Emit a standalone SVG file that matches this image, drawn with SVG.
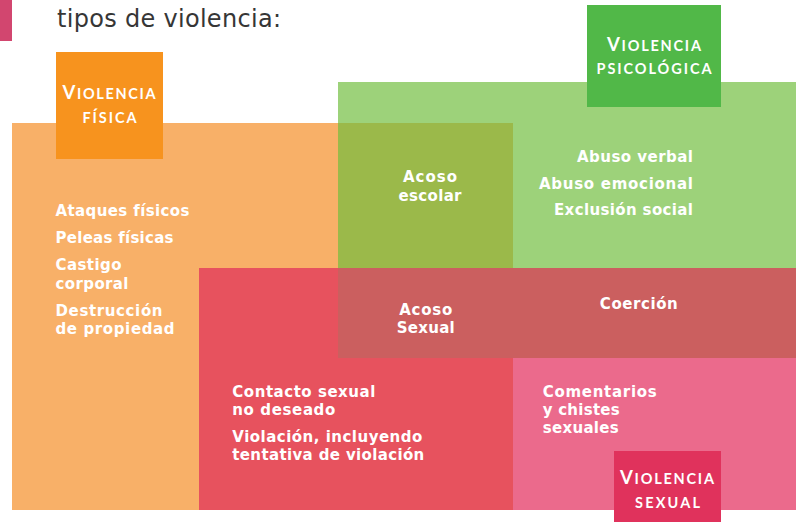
<svg xmlns="http://www.w3.org/2000/svg" width="796" height="522" viewBox="0 0 796 522">
<style>
.t{font-family:"DejaVu Sans","Open Sans","Liberation Sans",sans-serif;font-weight:700;font-size:15px;fill:#ffffff}
.r{text-anchor:end}
.m{text-anchor:middle}
.lab{font-family:Lato,"Open Sans","Liberation Sans",sans-serif;font-weight:700;fill:#ffffff;text-anchor:middle;font-size:14.5px}
.big{font-size:18.5px}
.title{font-family:"DejaVu Sans","Open Sans","Liberation Sans",sans-serif;font-size:24px;fill:#363636}
</style>
<rect x="0" y="0" width="12" height="41" fill="#D2466F"/>
<text class="title" x="57" y="27" textLength="224" lengthAdjust="spacing">tipos de violencia:</text>

<g id="fisica">
<rect x="12" y="123" width="501" height="387" fill="#F8B068"/>
</g>
<g id="psicologica">
<rect x="338" y="82" width="458" height="276" fill="#9DD27A"/>
</g>
<g id="acoso-escolar">
<rect x="338" y="123" width="175" height="145" fill="#9BB94A"/>
</g>
<g id="sexual">
<rect x="199" y="268" width="314" height="242" fill="#E7525E"/>
<rect x="513" y="358" width="283" height="152" fill="#EB6A8C"/>
</g>
<g id="coercion-acoso-sexual">
<rect x="338" y="268" width="458" height="90" fill="#CB5F5F"/>
</g>

<g id="texto-fisica">
<text class="t" x="55.5" y="216" textLength="134" lengthAdjust="spacing">Ataques físicos</text>
<text class="t" x="55.5" y="243" textLength="118" lengthAdjust="spacing">Peleas físicas</text>
<text class="t" x="55.5" y="270" textLength="66" lengthAdjust="spacing">Castigo</text>
<text class="t" x="55.5" y="289" textLength="73" lengthAdjust="spacing">corporal</text>
<text class="t" x="55.5" y="316" textLength="107" lengthAdjust="spacing">Destrucción</text>
<text class="t" x="55.5" y="334" textLength="119" lengthAdjust="spacing">de propiedad</text>
</g>
<g id="texto-psicologica">
<text class="t r" x="693" y="162" textLength="116" lengthAdjust="spacing">Abuso verbal</text>
<text class="t r" x="693" y="189" textLength="154" lengthAdjust="spacing">Abuso emocional</text>
<text class="t r" x="693" y="215" textLength="139" lengthAdjust="spacing">Exclusión social</text>
</g>
<g id="texto-acoso-escolar">
<text class="t m" x="430" y="182" textLength="54" lengthAdjust="spacing">Acoso</text>
<text class="t m" x="430" y="201" textLength="63" lengthAdjust="spacing">escolar</text>
</g>
<g id="texto-acoso-sexual">
<text class="t m" x="425.7" y="315" textLength="53" lengthAdjust="spacing">Acoso</text>
<text class="t m" x="425.7" y="333" textLength="58" lengthAdjust="spacing">Sexual</text>
</g>
<g id="texto-coercion">
<text class="t m" x="638.8" y="309" textLength="78" lengthAdjust="spacing">Coerción</text>
</g>
<g id="texto-sexual">
<text class="t" x="232.3" y="396.5" textLength="143" lengthAdjust="spacing">Contacto sexual</text>
<text class="t" x="232.3" y="414.5" textLength="103" lengthAdjust="spacing">no deseado</text>
<text class="t" x="232.3" y="442" textLength="190" lengthAdjust="spacing">Violación, incluyendo</text>
<text class="t" x="232.3" y="460" textLength="192" lengthAdjust="spacing">tentativa de violación</text>
<text class="t" x="542.7" y="397" textLength="114" lengthAdjust="spacing">Comentarios</text>
<text class="t" x="542.7" y="415" textLength="77" lengthAdjust="spacing">y chistes</text>
<text class="t" x="542.7" y="433" textLength="76" lengthAdjust="spacing">sexuales</text>
</g>

<g id="label-fisica">
<rect x="56" y="52" width="107" height="107" fill="#F7931E"/>
<text class="lab" x="109" y="99" textLength="93" lengthAdjust="spacing"><tspan class="big">V</tspan>IOLENCIA</text>
<text class="lab" x="109.5" y="123" textLength="54" lengthAdjust="spacing">FÍSICA</text>
</g>
<g id="label-psicologica">
<rect x="587" y="5" width="134" height="102" fill="#51B848"/>
<text class="lab" x="654" y="51" textLength="94" lengthAdjust="spacing"><tspan class="big">V</tspan>IOLENCIA</text>
<text class="lab" x="654" y="74" textLength="115" lengthAdjust="spacing">PSICOLÓGICA</text>
</g>
<g id="label-sexual">
<rect x="614" y="451" width="107" height="71" fill="#E0325C"/>
<text class="lab" x="667" y="484" textLength="94" lengthAdjust="spacing"><tspan class="big">V</tspan>IOLENCIA</text>
<text class="lab" x="667.5" y="508" textLength="65" lengthAdjust="spacing">SEXUAL</text>
</g>
</svg>
